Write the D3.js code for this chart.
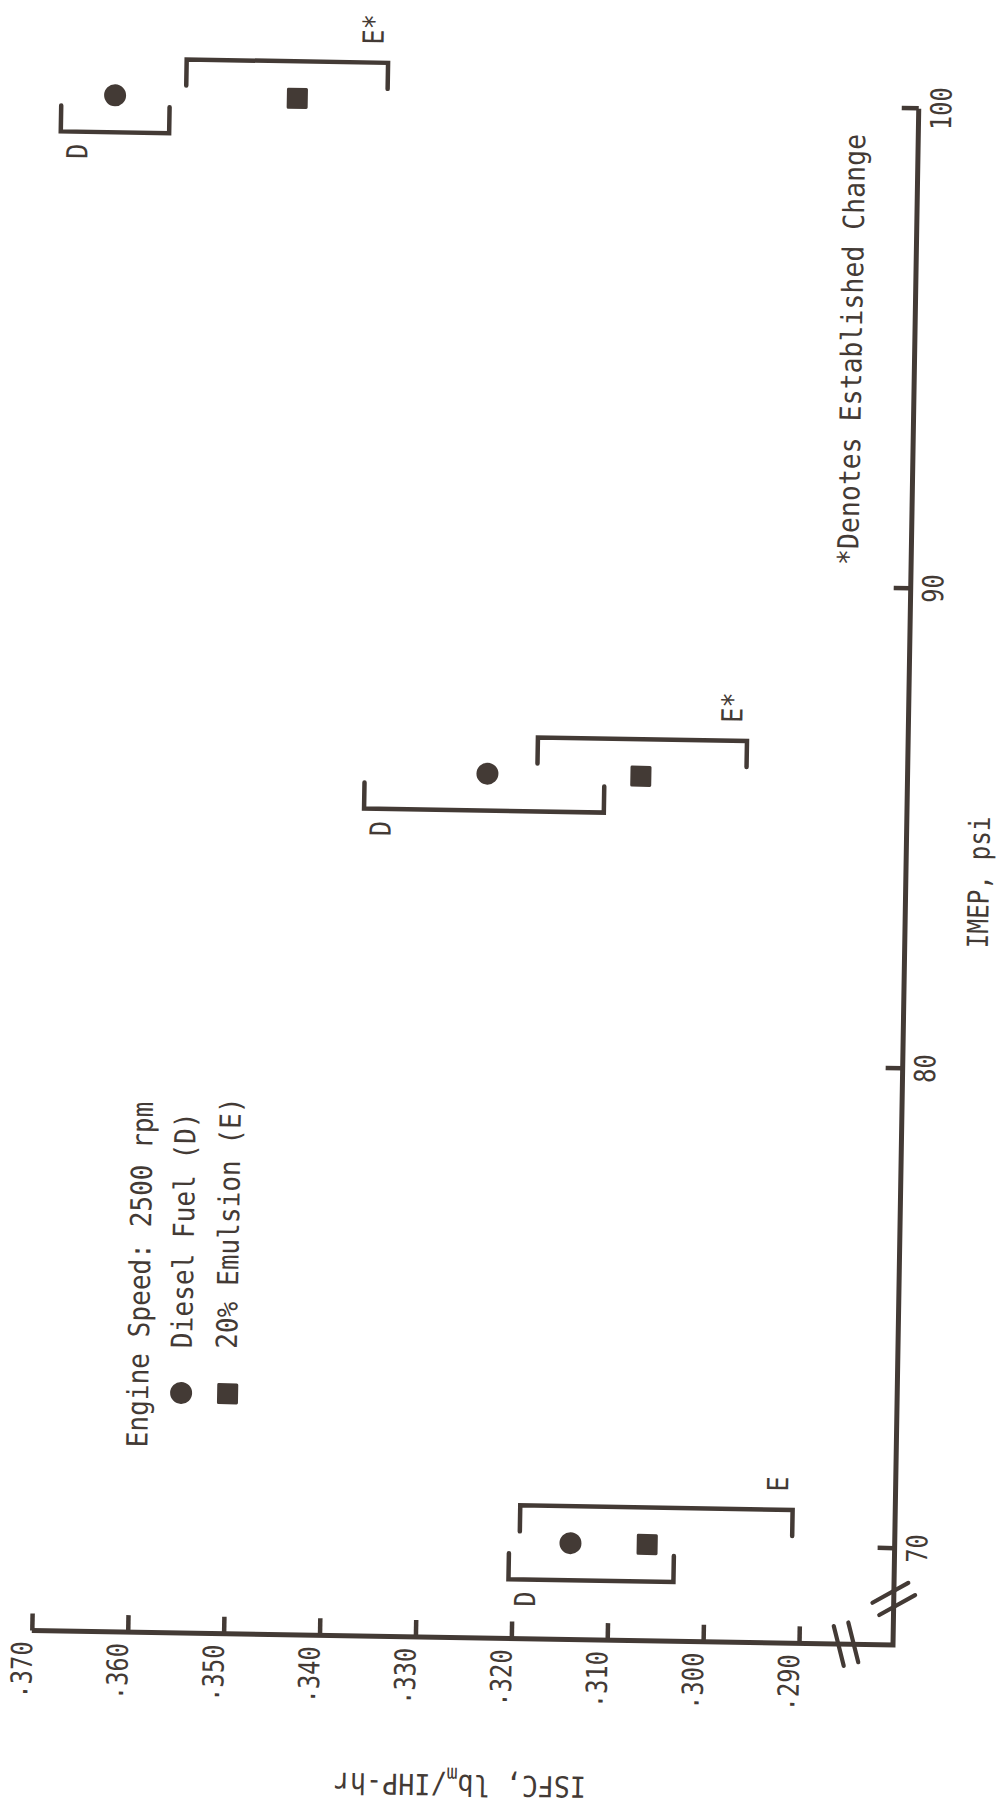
<!DOCTYPE html>
<html>
<head>
<meta charset="utf-8">
<script src="https://cdn.jsdelivr.net/npm/d3@7"></script>
<style>
  html, body { margin: 0; padding: 0; background: #fff; }
  svg { display: block; }
</style>
</head>
<body>
<svg id="chart" width="1004" height="1817"></svg>
<script>
// IMEP settings at which both fuels were run, psi
const imepValues = [70, 86, 100];
// mean ISFC, lbm/IHP-hr
const dieselIsfc = [0.314, 0.324, 0.364];
const emulsionIsfc = [0.306, 0.308, 0.345];
// spread of the individual readings, low and high limits
const dieselLow = [0.3032, 0.3118, 0.3583];
const dieselHigh = [0.3204, 0.3368, 0.3696];
const emulsionLow = [0.2909, 0.2970, 0.3356];
const emulsionHigh = [0.3193, 0.3188, 0.3566];
const dieselTags = ["D", "D", "D"];
const emulsionTags = ["E", "E*", "E*"];
// axis ticks
const imepTicks = [70, 80, 90, 100];
const isfcTicks = [0.29, 0.30, 0.31, 0.32, 0.33, 0.34, 0.35, 0.36, 0.37];
// legend and titles
const legendTitle = "Engine Speed: 2500 rpm";
const legendItems = ["Diesel Fuel (D)", "20% Emulsion (E)"];
const footnote = "*Denotes Established Change";
const imepTitle = "IMEP, psi";

const INK = "#433a35";
const FONT = "'DejaVu Sans Mono', 'Liberation Mono', monospace";
const FS = 29;

const svg = d3.select("#chart");
svg.append("rect").attr("width", 1004).attr("height", 1817).attr("fill", "#fff");

// the whole sheet sits slightly skewed; the plot itself is laid on its side
const page = svg.append("g").attr("transform", "rotate(0.96 897 1645)");
const plot = page.append("g")
  .attr("transform", "translate(0,1645) rotate(-90)")
  .attr("font-family", FONT)
  .attr("font-size", FS)
  .attr("fill", INK);

// plot frame: u runs along IMEP, v runs down the ISFC axis
const x = d3.scaleLinear().domain([70, 100]).range([96.3, 1536.4]);
const y = d3.scaleLinear().domain([0.29, 0.37]).range([799, 31.7]);
const axisV = 893;   // position of the IMEP axis line

function label(g, u, v, str, anchor, k, extra) {
  return g.append("text")
    .attr("transform", `translate(${u},${v})${extra || ""} scale(${k},1)`)
    .attr("text-anchor", anchor)
    .attr("fill", INK)
    .text(str);
}

// axis lines meeting at the broken corner
plot.append("path")
  .attr("d", `M0,${y(0.37)}V${axisV}H${x(100)}`)
  .attr("fill", "none")
  .attr("stroke", INK)
  .attr("stroke-width", 5)
  .attr("stroke-linejoin", "miter");

// ISFC axis
const isfcAxis = d3.axisLeft(y)
  .tickValues(isfcTicks)
  .tickSizeInner(-17)
  .tickSizeOuter(0)
  .tickPadding(11)
  .tickFormat(d => d3.format(".3f")(d).replace(/^0/, ""));
const gy = plot.append("g").call(isfcAxis)
  .attr("font-family", FONT).attr("font-size", FS).attr("color", INK);
gy.select(".domain").remove();
gy.selectAll(".tick line").attr("stroke-width", 4.5);
const kTick = 0.82;
gy.selectAll(".tick text").each(function () {
  const t = d3.select(this);
  const s = t.text();
  t.text(null)
    .attr("x", -11 / kTick)
    .attr("dy", "0.36em")
    .attr("transform", `scale(${kTick},1)`);
  t.append("tspan").attr("dy", -4).text(s.slice(0, 1));
  t.append("tspan").attr("dy", 4).text(s.slice(1));
});

// IMEP axis
const imepAxis = d3.axisBottom(x)
  .tickValues(imepTicks)
  .tickSizeInner(-17)
  .tickSizeOuter(0)
  .tickPadding(12);
const gx = plot.append("g").attr("transform", `translate(0,${axisV})`).call(imepAxis)
  .attr("font-family", FONT).attr("font-size", FS).attr("color", INK);
gx.select(".domain").remove();
gx.selectAll(".tick line").attr("stroke-width", 4.5);
gx.selectAll(".tick text").attr("transform", `scale(${kTick},1)`);

// axis break symbols
function breakMark(cu, cv, angleDeg, gap, len) {
  const a = angleDeg * Math.PI / 180;
  const du = Math.cos(a), dv = Math.sin(a);
  const pu = -dv, pv = du;
  [-1, 1].forEach(s => {
    const ou = cu + s * pu * gap / 2, ov = cv + s * pv * gap / 2;
    plot.append("line")
      .attr("x1", ou - du * len / 2).attr("y1", ov - dv * len / 2)
      .attr("x2", ou + du * len / 2).attr("y2", ov + dv * len / 2)
      .attr("stroke", INK).attr("stroke-width", 4.2).attr("stroke-linecap", "round");
  });
}
breakMark(0, axisV - 47, -15, 15, 41);
breakMark(46, axisV, 60, 14, 41);

// range brackets with their tags
const BR_OFF = 37, ARM = 26, kTag = 0.87;
imepValues.forEach((m, i) => {
  const uD = x(m) - BR_OFF;
  plot.append("path")
    .attr("d", `M${uD + ARM},${y(dieselHigh[i])}H${uD}V${y(dieselLow[i])}H${uD + ARM}`)
    .attr("fill", "none").attr("stroke", INK).attr("stroke-width", 4.5)
    .attr("stroke-linecap", "round").attr("stroke-linejoin", "miter");
  label(plot, uD - 12, y(dieselHigh[i]) + 27, dieselTags[i], "end", kTag);

  const uE = x(m) + BR_OFF;
  plot.append("path")
    .attr("d", `M${uE - ARM},${y(emulsionHigh[i])}H${uE}V${y(emulsionLow[i])}H${uE - ARM}`)
    .attr("fill", "none").attr("stroke", INK).attr("stroke-width", 4.5)
    .attr("stroke-linecap", "round").attr("stroke-linejoin", "miter");
  label(plot, uE + 18, y(emulsionLow[i]) - 5, emulsionTags[i], "start", kTag);
});

// mean points
plot.selectAll("circle.diesel")
  .data(imepValues)
  .join("circle")
  .attr("class", "diesel")
  .attr("cx", d => x(d))
  .attr("cy", (d, i) => y(dieselIsfc[i]))
  .attr("r", 11)
  .attr("fill", INK);

plot.selectAll("rect.emulsion")
  .data(imepValues)
  .join("rect")
  .attr("class", "emulsion")
  .attr("x", d => x(d) - 10.5)
  .attr("y", (d, i) => y(emulsionIsfc[i]) - 10.5)
  .attr("width", 21).attr("height", 21)
  .attr("rx", 1.5)
  .attr("fill", INK);

// legend
const kLeg = 0.9;
label(plot, 185, 144, legendTitle, "start", kLeg);
plot.append("circle").attr("cx", 240).attr("cy", 177).attr("r", 11).attr("fill", INK);
label(plot, 285, 187, legendItems[0], "start", kLeg);
plot.append("rect").attr("x", 229.5).attr("y", 213).attr("width", 21).attr("height", 21)
  .attr("rx", 1.5).attr("fill", INK);
label(plot, 285, 232, legendItems[1], "start", kLeg);

// footnote and axis titles
label(plot, 1079, 840, footnote, "start", 0.915);
label(plot, 764, 976, imepTitle, "middle", 0.84);

const isfcTitle = plot.append("text")
  .attr("transform", `translate(-137,${(y(0.37) + axisV) / 2}) rotate(-90) scale(0.92,1)`)
  .attr("text-anchor", "middle")
  .attr("fill", INK);
isfcTitle.append("tspan").text("ISFC, lb");
isfcTitle.append("tspan").attr("font-size", 20).attr("dy", 7).text("m");
isfcTitle.append("tspan").attr("dy", -7).text("/IHP-hr");
</script>
</body>
</html>
